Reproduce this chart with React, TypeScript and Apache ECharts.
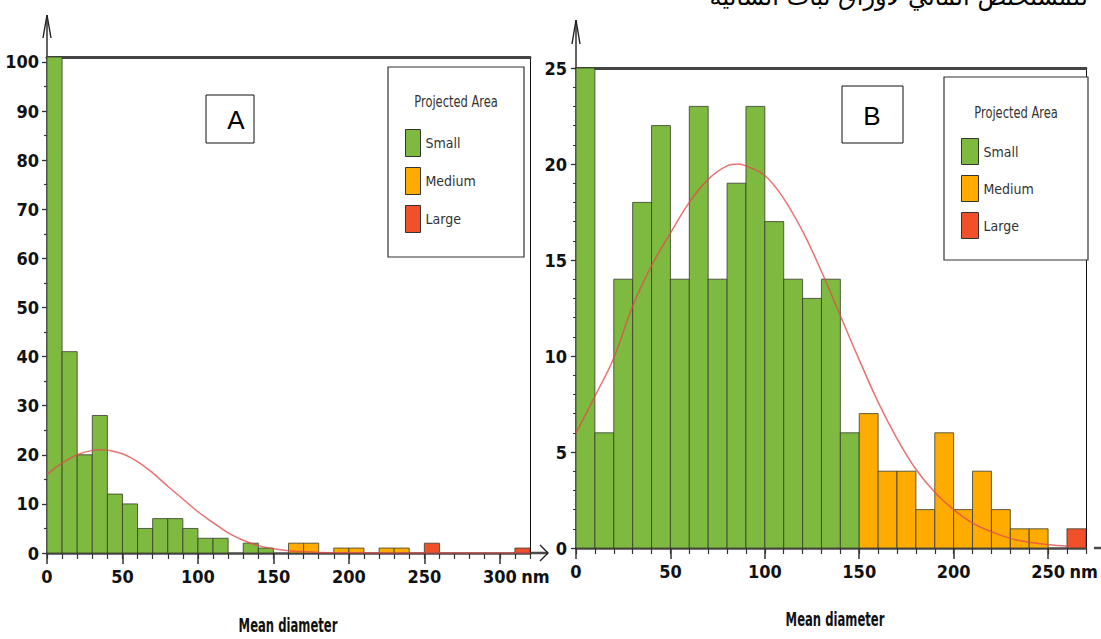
import React, { useEffect, useRef } from "react";
import * as echarts from "echarts";

// Particle counts per 10 nm bin, starting at 0 nm
const binWidth = 10;
const countsA = [101, 41, 20, 28, 12, 10, 5, 7, 7, 5, 3, 3, 0, 2, 1, 0, 2, 2, 0, 1, 1, 0, 1, 1, 0, 2, 0, 0, 0, 0, 0, 1];
const countsB = [25, 6, 14, 18, 22, 14, 23, 14, 19, 23, 17, 14, 13, 14, 6, 7, 4, 4, 2, 6, 2, 4, 2, 1, 1, 0, 1];

// Size classes by projected area (nm limits between classes)
const sizeClasses = ["Small", "Medium", "Large"];
const classLimits = [150, 250];
const classColors = ["#7dba3f", "#ffab00", "#f0512a"];

// Fitted distribution curves, [diameter nm, count]
const curveA = [
  [0, 16], [10, 18.3], [20, 20], [30, 20.9], [36, 21.05], [40, 20.95], [50, 20.2],
  [60, 18.6], [70, 16.3], [80, 13.6], [90, 11.0], [100, 8.4], [110, 6.2], [120, 4.1],
  [130, 2.6], [140, 1.5], [150, 0.85], [160, 0.45], [170, 0.25], [180, 0.12],
  [200, 0.04], [230, 0], [320, 0],
];
const curveB = [
  [0, 6], [10, 7.9], [20, 9.9], [30, 12.6], [40, 14.7], [50, 16.4], [60, 18.0],
  [70, 19.2], [80, 19.9], [86, 20], [90, 19.9], [100, 19.4], [110, 18.2], [120, 16.5],
  [130, 14.4], [140, 12.1], [150, 9.8], [160, 7.6], [170, 5.7], [180, 4.1], [190, 2.9],
  [200, 2.0], [210, 1.3], [220, 0.85], [230, 0.5], [240, 0.3], [250, 0.17], [260, 0.1],
];

// Axis ticks
const xTicksA = [0, 50, 100, 150, 200, 250, 300];
const xTicksB = [0, 50, 100, 150, 200, 250];
const yTicksA = [0, 10, 20, 30, 40, 50, 60, 70, 80, 90, 100];
const yMinorA = [5, 15, 25, 35, 45, 55, 65, 75, 85, 95];
const yTicksB = [0, 5, 10, 15, 20, 25];

const xTitle = "Mean diameter";
const legendTitle = "Projected Area";
const arabicCaption = "للمستخلص المائي لأوراق نبات السانية";

const NARROW = "'DejaVu Sans Condensed', 'Liberation Sans Narrow', 'DejaVu Sans', sans-serif";

function classOf(start: number) {
  if (start < classLimits[0]) return 0;
  if (start < classLimits[1]) return 1;
  return 2;
}

function binsFor(counts: number[], cls: number) {
  const out: number[][] = [];
  counts.forEach((c, i) => {
    const start = i * binWidth;
    if (c > 0 && classOf(start) === cls) out.push([start, start + binWidth, c]);
  });
  return out;
}

function renderBin(params: any, api: any) {
  const start = api.value(0);
  const end = api.value(1);
  const count = api.value(2);
  const tl = api.coord([start, count]);
  const br = api.coord([end, 0]);
  const cs = params.coordSys;
  const rect = echarts.graphic.clipRectByRect(
    { x: tl[0], y: tl[1], width: br[0] - tl[0], height: br[1] - tl[1] },
    { x: cs.x, y: cs.y, width: cs.width, height: cs.height }
  );
  if (!rect) return null;
  return {
    type: "rect",
    shape: rect,
    style: { fill: api.visual("color"), stroke: "rgba(55,60,45,0.8)", lineWidth: 1 },
  };
}

function numberLabel(last: number) {
  return (v: number) => (v === last ? `{pad|}{n|${v}}{u| nm}` : `{n|${v}}`);
}

const labelRich = {
  n: { fontFamily: NARROW, fontWeight: "bold", fontSize: 18, color: "#111" },
  u: { fontFamily: NARROW, fontWeight: "bold", fontSize: 18, color: "#111", width: 32 },
  pad: { width: 32 },
};

function mainX(grid: number, max: number, ticks: number[]) {
  return {
    gridIndex: grid,
    type: "value",
    min: 0,
    max,
    interval: 50,
    position: "bottom",
    axisLine: { show: true, onZero: false, lineStyle: { color: "#4a4a4a", width: 2.5 } },
    axisTick: { show: true, length: 11, customValues: ticks, lineStyle: { color: "#333", width: 1.5 } },
    axisLabel: {
      show: true,
      customValues: ticks,
      margin: 14,
      formatter: numberLabel(ticks[ticks.length - 1]),
      rich: labelRich,
    },
    splitLine: { show: false },
  };
}

function minorX(grid: number, max: number) {
  return {
    gridIndex: grid,
    type: "value",
    min: 0,
    max,
    interval: 10,
    position: "bottom",
    axisLine: { show: false, onZero: false },
    axisTick: { show: true, length: 6, lineStyle: { color: "#333", width: 1.2 } },
    axisLabel: { show: false },
    splitLine: { show: false },
  };
}

function borderX(grid: number, max: number) {
  return {
    gridIndex: grid,
    type: "value",
    min: 0,
    max,
    position: "top",
    axisLine: { show: true, onZero: false, lineStyle: { color: "#444", width: 3 } },
    axisTick: { show: false },
    axisLabel: { show: false },
    splitLine: { show: false },
  };
}

function borderY(grid: number, max: number) {
  return {
    gridIndex: grid,
    type: "value",
    min: 0,
    max,
    position: "right",
    axisLine: { show: true, onZero: false, lineStyle: { color: "#111", width: 1 } },
    axisTick: { show: false },
    axisLabel: { show: false },
    splitLine: { show: false },
  };
}

const yLabelStyle = { fontFamily: NARROW, fontWeight: "bold", fontSize: 18, color: "#111" };

function buildOption() {
  const series: any[] = [];
  sizeClasses.forEach((name, cls) => {
    series.push({
      type: "custom",
      name,
      xAxisIndex: 0,
      yAxisIndex: 0,
      itemStyle: { color: classColors[cls] },
      encode: { x: [0, 1], y: 2 },
      data: binsFor(countsA, cls),
      renderItem: renderBin,
    });
    series.push({
      type: "custom",
      name,
      xAxisIndex: 3,
      yAxisIndex: 3,
      itemStyle: { color: classColors[cls] },
      encode: { x: [0, 1], y: 2 },
      data: binsFor(countsB, cls),
      renderItem: renderBin,
    });
  });
  const curveStyle = { color: "rgba(226,78,78,0.8)", width: 1.5 };
  series.push({
    type: "line",
    name: "fitA",
    xAxisIndex: 0,
    yAxisIndex: 0,
    data: curveA,
    smooth: 0.4,
    symbol: "none",
    lineStyle: curveStyle,
    itemStyle: { color: curveStyle.color },
    z: 5,
  });
  series.push({
    type: "line",
    name: "fitB",
    xAxisIndex: 3,
    yAxisIndex: 3,
    data: curveB,
    smooth: 0.4,
    symbol: "none",
    lineStyle: curveStyle,
    itemStyle: { color: curveStyle.color },
    z: 5,
  });

  const legendBase = {
    data: sizeClasses,
    orient: "vertical",
    icon: "rect",
    selectedMode: false,
    itemGap: 10,
    itemStyle: { borderColor: "#333", borderWidth: 1 },
    textStyle: { fontFamily: NARROW, fontSize: 14, color: "#333" },
  };

  const line = (x1: number, y1: number, x2: number, y2: number, w = 1.4, stroke = "#222") => ({
    type: "line",
    shape: { x1, y1, x2, y2 },
    style: { stroke, lineWidth: w },
  });
  const head = (pts: number[][]) => ({
    type: "polyline",
    shape: { points: pts },
    style: { stroke: "#222", lineWidth: 1.4, fill: null },
  });
  const box = (x: number, y: number, w: number, h: number, stroke = "#333", lw = 1.2) => ({
    type: "rect",
    shape: { x, y, width: w, height: h },
    style: { fill: "#fff", stroke, lineWidth: lw },
    z: 1,
  });
  const text = (x: number, y: number, t: string, font: string, fill = "#333", sx = 1) => ({
    type: "text",
    x,
    y,
    scaleX: sx,
    style: { text: t, font, fill, align: "center", verticalAlign: "middle" },
    z: 2,
  });

  return {
    animation: false,
    backgroundColor: "#fff",
    grid: [
      { left: 47, top: 57, width: 483, height: 496 },
      { left: 576, top: 68, width: 518, height: 480 },
    ],
    xAxis: [
      mainX(0, 320, xTicksA),
      minorX(0, 320),
      borderX(0, 320),
      mainX(1, 270, xTicksB),
      minorX(1, 270),
      borderX(1, 270),
    ],
    yAxis: [
      {
        gridIndex: 0,
        type: "value",
        min: 0,
        max: 101,
        interval: 10,
        position: "left",
        axisLine: { show: true, onZero: false, lineStyle: { color: "#333", width: 1.5 } },
        axisTick: { show: true, length: 5, customValues: yTicksA, lineStyle: { color: "#333", width: 1.3 } },
        axisLabel: { show: true, customValues: yTicksA, margin: 8, ...yLabelStyle },
        splitLine: { show: false },
      },
      {
        gridIndex: 0,
        type: "value",
        min: 0,
        max: 101,
        position: "left",
        axisLine: { show: false, onZero: false },
        axisTick: { show: true, length: 3, customValues: yMinorA, lineStyle: { color: "#333", width: 1.2 } },
        axisLabel: { show: false, customValues: yMinorA },
        splitLine: { show: false },
      },
      borderY(0, 101),
      {
        gridIndex: 1,
        type: "value",
        min: 0,
        max: 25,
        interval: 5,
        position: "left",
        axisLine: { show: true, onZero: false, lineStyle: { color: "#333", width: 1.5 } },
        axisTick: { show: true, length: 5, lineStyle: { color: "#333", width: 1.3 } },
        minorTick: { show: true, splitNumber: 5, length: 3, lineStyle: { color: "#333", width: 1 } },
        axisLabel: { show: true, customValues: yTicksB, margin: 9, ...yLabelStyle },
        splitLine: { show: false },
      },
      borderY(1, 25),
    ],
    legend: [
      { ...legendBase, left: 400, top: 124, itemWidth: 15, itemHeight: 27 },
      { ...legendBase, left: 956, top: 133, itemWidth: 17, itemHeight: 26 },
    ],
    graphic: [
      // caption running off the top edge
      {
        type: "text",
        x: 1088,
        y: 9,
        style: {
          text: arabicCaption,
          font: '24px "DejaVu Sans"',
          fill: "#000",
          align: "right",
          verticalAlign: "bottom",
        },
      },
      // y-axis arrows
      line(47, 57, 47, 15),
      head([[43, 38], [47, 15], [51, 38]]),
      line(576, 68, 576, 20),
      head([[572, 44], [576, 20], [580, 44]]),
      // x-axis extensions
      line(530, 553, 548, 553, 2.5, "#4a4a4a"),
      head([[540, 545], [548, 553], [540, 561]]),
      line(1094, 548, 1101, 548, 2.5, "#4a4a4a"),
      // x-axis titles
      text(288, 626, xTitle, `bold 19px ${NARROW}`, "#111", 0.68),
      text(835, 620, xTitle, `bold 19px ${NARROW}`, "#111", 0.68),
      // panel tags
      box(206, 95, 48, 48, "#111", 1),
      text(236, 120, "A", '26px "Liberation Sans", sans-serif', "#000"),
      box(842, 86, 61, 57, "#111", 1),
      text(872, 116, "B", '26px "Liberation Sans", sans-serif', "#000"),
      // legend frames
      box(388, 67, 136, 190),
      text(456, 102, legendTitle, `15px ${NARROW}`, "#333", 0.85),
      box(944, 77, 144, 183),
      text(1016, 113, legendTitle, `15px ${NARROW}`, "#333", 0.85),
    ],
    series,
  };
}

export default function App() {
  const ref = useRef<HTMLDivElement>(null);
  useEffect(() => {
    if (!ref.current) return;
    const chart = echarts.init(ref.current, undefined, { renderer: "svg" });
    chart.setOption(buildOption() as any);
    return () => chart.dispose();
  }, []);
  return (
    <div
      ref={ref}
      style={{ position: "fixed", left: 0, top: 0, width: 1101, height: 639, background: "#fff" }}
    />
  );
}
